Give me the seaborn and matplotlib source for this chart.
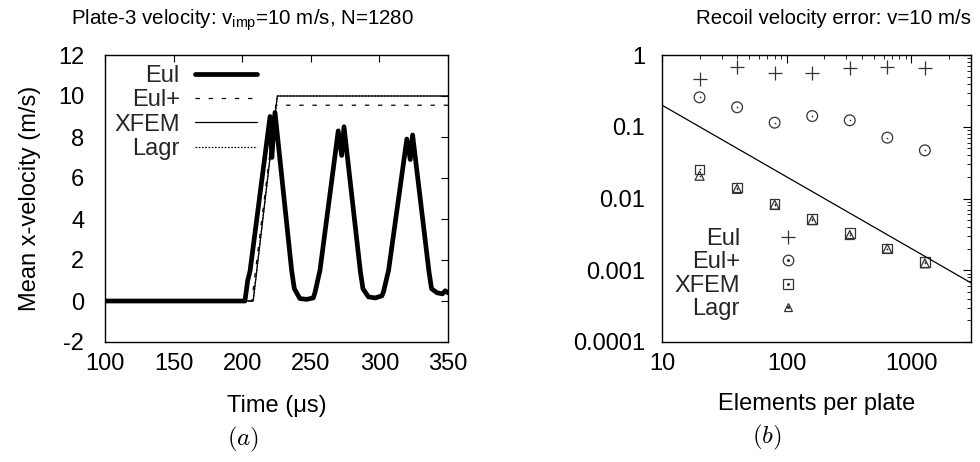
import numpy as np
import pandas as pd
import seaborn as sns
import matplotlib
matplotlib.use('Agg')
import matplotlib.pyplot as plt
from matplotlib.lines import Line2D
from matplotlib.legend_handler import HandlerTuple
from matplotlib.ticker import LogLocator, FixedLocator, FixedFormatter, NullFormatter

# ---------------- data: panel (a) ----------------
t_eul = [100, 202, 204, 205.7, 220.3, 221.6, 223.9, 236.1, 238, 242, 247, 251.8, 253, 256.7,
         270, 272.5, 274.2, 286.1, 288, 292, 297, 301.8, 303, 306.7,
         320, 322.5, 324.2, 336.1, 338, 342, 346, 348, 350]
v_eul = [0, 0, 1.0, 1.45, 9.0, 7.0, 9.2, 1.45, 0.6, 0.12, 0.08, 0.15, 0.4, 1.5,
         8.3, 7.1, 8.5, 1.45, 0.6, 0.2, 0.15, 0.25, 0.45, 1.5,
         7.9, 6.9, 8.1, 1.45, 0.6, 0.4, 0.35, 0.5, 0.4]
t_eulp = [100, 207, 224.5, 350]
v_eulp = [0, 0, 9.55, 9.55]
t_xfem = [100, 208, 225.6, 350]
v_xfem = [0, 0, 10, 10]
t_lagr = [100, 208, 225.6, 350]
v_lagr = [0, 0, 10, 10]

# ---------------- data: panel (b) ----------------
n_elem = [20, 40, 80, 160, 320, 640, 1280]
err_eul = [0.47, 0.69, 0.57, 0.556, 0.65, 0.67, 0.66]
err_eulp = [0.257, 0.187, 0.114, 0.141, 0.123, 0.0705, 0.0469]
err_xfem = [0.0255, 0.0142, 0.0084, 0.0052, 0.0033, 0.0020, 0.0013]
err_lagr = [0.0208, 0.0136, 0.0082, 0.0050, 0.0031, 0.0020, 0.00125]
ref_n = [10, 3000]
ref_err = [0.2, 0.000667]

xticks_a = [100, 150, 200, 250, 300, 350]
yticks_a = [-2, 0, 2, 4, 6, 8, 10, 12]
xticks_b = [10, 100, 1000]
yticks_b = [0.0001, 0.001, 0.01, 0.1, 1]
yticklabels_b = ['0.0001', '0.001', '0.01', '0.1', '1']

sns.set_theme(style='white')
plt.rcParams['font.family'] = ['Liberation Sans', 'DejaVu Sans']
plt.rcParams['mathtext.fontset'] = 'custom'
plt.rcParams['mathtext.rm'] = 'Liberation Sans'
plt.rcParams['mathtext.it'] = 'Liberation Sans:italic'
plt.rcParams['mathtext.sf'] = 'Liberation Sans'

FS = 17
FT = 14.8
W, H = 980, 462
fig = plt.figure(figsize=(W / 100, H / 100), dpi=100)
ax1 = fig.add_axes([105 / W, 1 - 342 / H, 343 / W, 287 / H])
ax2 = fig.add_axes([662 / W, 1 - 342 / H, 309 / W, 287 / H])

# ---------------- panel (a) ----------------
sns.lineplot(x=t_xfem, y=v_xfem, ax=ax1, color='black', lw=0.9, sort=False, estimator=None)
sns.lineplot(x=t_lagr, y=v_lagr, ax=ax1, color='black', lw=0.9, linestyle=(0, (1.3, 1.3)),
             sort=False, estimator=None)
sns.lineplot(x=t_eulp, y=v_eulp, ax=ax1, color='black', lw=0.9, linestyle=(0, (3.5, 7)),
             sort=False, estimator=None)
sns.lineplot(x=t_eul, y=v_eul, ax=ax1, color='black', lw=3.4, sort=False, estimator=None)

ax1.set_xlim(100, 350)
ax1.set_ylim(-2, 12)
ax1.set_xticks(xticks_a)
ax1.set_yticks(yticks_a)
ax1.set_xticklabels([str(v) for v in xticks_a])
ax1.set_yticklabels([str(v) for v in yticks_a])
ax1.tick_params(direction='in', top=True, right=True, length=5, width=0.8, color='black',
                labelsize=FS, labelcolor='black')
ax1.tick_params(axis='x', pad=8)
ax1.tick_params(axis='y', pad=15)
ax1.set_xlabel('Time (μs)', fontsize=FS, color='black', labelpad=14)
ax1.set_ylabel('Mean x-velocity (m/s)', fontsize=FS, color='black', labelpad=12)

h_a = [Line2D([], [], color='black', lw=3.4),
       Line2D([], [], color='black', lw=0.9, linestyle=(0, (3.5, 7))),
       Line2D([], [], color='black', lw=0.9),
       Line2D([], [], color='black', lw=0.9, linestyle=(0, (1.3, 1.3)))]
leg1 = ax1.legend(h_a, ['Eul', 'Eul+', 'XFEM', 'Lagr'], loc='upper right',
                  bbox_to_anchor=(257 / W, 1 - 65 / H), bbox_transform=fig.transFigure,
                  frameon=False, markerfirst=False, fontsize=FS, handlelength=2.63,
                  handletextpad=0.64, labelspacing=0.1, borderpad=0, borderaxespad=0)

# ---------------- panel (b) ----------------
GC = '#333333'
ax2.set_xscale('log')
ax2.set_yscale('log')
sns.lineplot(x=ref_n, y=ref_err, ax=ax2, color='black', lw=0.9, sort=False, estimator=None)
sns.scatterplot(x=n_elem, y=err_eul, ax=ax2, marker='+', s=95, color=GC, linewidth=0.9)
sns.scatterplot(x=n_elem, y=err_eulp, ax=ax2, marker='o', s=60, facecolor='none',
                edgecolor=GC, linewidth=0.9)
sns.scatterplot(x=n_elem, y=err_xfem, ax=ax2, marker='s', s=48, facecolor='none',
                edgecolor=GC, linewidth=0.9)
sns.scatterplot(x=n_elem, y=err_lagr, ax=ax2, marker='^', s=42, facecolor='none',
                edgecolor=GC, linewidth=0.9)
for series in (err_eulp, err_xfem, err_lagr):
    sns.scatterplot(x=n_elem, y=series, ax=ax2, marker='o', s=1.5, color=GC, linewidth=0)

ax2.set_xlim(10, 3000)
ax2.set_ylim(1e-4, 1)
ax2.xaxis.set_major_locator(FixedLocator(xticks_b))
ax2.xaxis.set_major_formatter(FixedFormatter([str(v) for v in xticks_b]))
ax2.yaxis.set_major_locator(FixedLocator(yticks_b))
ax2.yaxis.set_major_formatter(FixedFormatter(yticklabels_b))
ax2.xaxis.set_minor_locator(LogLocator(base=10, subs=np.arange(2, 10), numticks=20))
ax2.yaxis.set_minor_locator(LogLocator(base=10, subs=np.arange(2, 10), numticks=20))
ax2.xaxis.set_minor_formatter(NullFormatter())
ax2.yaxis.set_minor_formatter(NullFormatter())
ax2.tick_params(which='both', direction='in', top=True, right=True, color='black',
                labelsize=FS, labelcolor='black')
ax2.tick_params(which='major', length=6, width=0.8)
ax2.tick_params(which='minor', length=3, width=0.6)
ax2.tick_params(axis='x', which='major', pad=8)
ax2.tick_params(axis='y', which='major', pad=12)
ax2.set_xlabel('Elements per plate', fontsize=FS, color='black', labelpad=13)

dot = Line2D([], [], color=GC, marker='o', ms=1.2, ls='none')
h_b = [Line2D([], [], color=GC, marker='+', ms=9.5, mew=0.9, ls='none'),
       (Line2D([], [], color=GC, marker='o', ms=7.6, mfc='none', mew=0.9, ls='none'), dot),
       (Line2D([], [], color=GC, marker='s', ms=6.8, mfc='none', mew=0.9, ls='none'), dot),
       (Line2D([], [], color=GC, marker='^', ms=6.4, mfc='none', mew=0.9, ls='none'), dot)]
leg2 = ax2.legend(h_b, ['Eul', 'Eul+', 'XFEM', 'Lagr'], loc='upper right',
                  bbox_to_anchor=(819 / W, 1 - 228 / H), bbox_transform=fig.transFigure,
                  frameon=False, markerfirst=False, fontsize=FS, handlelength=2.63,
                  handletextpad=0.72, labelspacing=0.06, borderpad=0, borderaxespad=0,
                  handler_map={tuple: HandlerTuple(ndivide=1, pad=0)})

for ax in (ax1, ax2):
    for s in ax.spines.values():
        s.set_color('black')
        s.set_linewidth(1.0)
    ax.grid(False)

# ---------------- titles and panel labels ----------------
fig.text(243 / W, 1 - 20 / H, r'Plate-3 velocity: v$_{\rm imp}$=10 m/s, N=1280',
         ha='center', va='center', fontsize=FT, color='black')
fig.text(833 / W, 1 - 19 / H, 'Recoil velocity error: v=10 m/s',
         ha='center', va='center', fontsize=FT, color='black')
fig.text(243 / W, 1 - 439 / H, r'$(a)$', ha='center', va='center', fontsize=18,
         color='black', math_fontfamily='cm')
fig.text(767 / W, 1 - 437 / H, r'$(b)$', ha='center', va='center', fontsize=18,
         color='black', math_fontfamily='cm')

fig.savefig('out.png', dpi=100)
